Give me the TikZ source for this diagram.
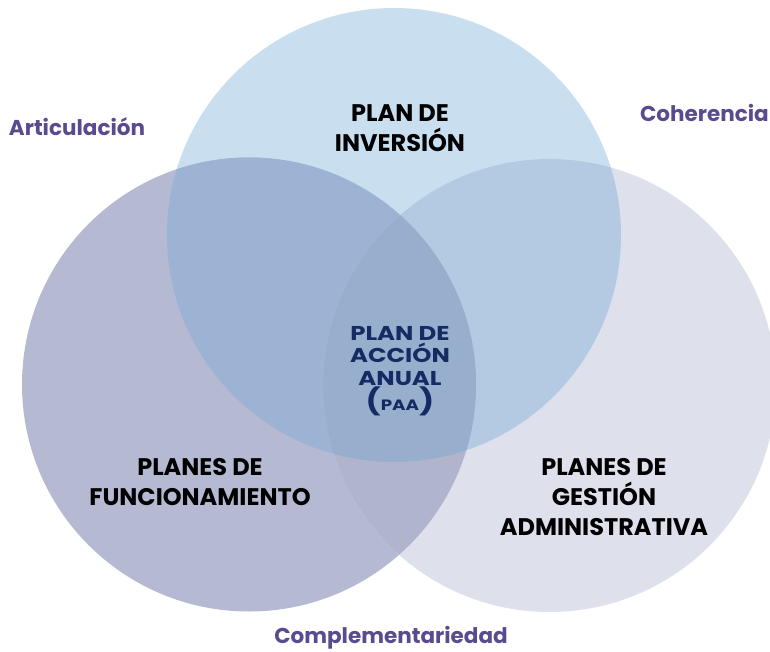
\documentclass[tikz,border=0pt]{standalone}
\usepackage{fontspec}
\setmainfont{Poppins}[BoldFont={* Bold}]
\newfontfamily\paafont{Poppins Bold}[FakeStretch=1.22]
\definecolor{cT}{RGB}{201,223,240}
\definecolor{cL}{RGB}{181,185,210}
\definecolor{cR}{RGB}{222,224,236}
\definecolor{cTL}{RGB}{156,179,211}
\definecolor{cTR}{RGB}{179,202,226}
\definecolor{cLR}{RGB}{176,180,205}
\definecolor{cTLR}{RGB}{151,175,205}
\definecolor{purp}{RGB}{90,75,143}
\definecolor{navy}{RGB}{22,42,100}
\tikzset{
  lbl/.style={font=\bfseries\fontsize{24}{30}\selectfont, align=center, text=black, inner sep=0pt},
  paa/.style={font=\paafont\fontsize{20}{22.5}\selectfont, align=center, text=navy, inner sep=0pt},
  side/.style={font=\bfseries\fontsize{21.5}{24}\selectfont, text=purp, inner sep=0pt}
}
\begin{document}
\begin{tikzpicture}[x=1pt,y=1pt]
\useasboundingbox (0,0) rectangle (770,651);
\clip (0,0) rectangle (770,651);
\coordinate (T) at (394,416);
\coordinate (L) at (249,266.5);
\coordinate (R) at (549.5,265.5);
\def\rT{227}\def\rL{227}\def\rR{226.5}
\fill[cT] (T) circle (\rT);
\fill[cL] (L) circle (\rL);
\fill[cR] (R) circle (\rR);
\begin{scope}\clip (T) circle (\rT); \fill[cTL] (L) circle (\rL); \end{scope}
\begin{scope}\clip (T) circle (\rT); \fill[cTR] (R) circle (\rR); \end{scope}
\begin{scope}\clip (L) circle (\rL); \fill[cLR] (R) circle (\rR); \end{scope}
\begin{scope}\clip (T) circle (\rT); \clip (L) circle (\rL); \fill[cTLR] (R) circle (\rR); \end{scope}
\node[lbl] (inv) at (400,523) {PLAN DE\\INVERSIÓN};
\node[lbl] (fun) at (200,169) {PLANES DE\\FUNCIONAMIENTO};
\node[lbl] (ges) at (604,154) {PLANES DE\\GESTIÓN\\ADMINISTRATIVA};
\node[paa] (pa) at (400,280) {PLAN DE\\ACCIÓN\\ANUAL\\{\fontsize{26}{22.5}\selectfont(}{\fontsize{15}{22.5}\selectfont PAA}{\fontsize{26}{22.5}\selectfont)}};
\node[side] (art) at (77,524) {Articulación};
\node[side,anchor=east] (coh) at (769,538) {Coherencia};
\node[side] (com) at (391,13) {Complementariedad};
\end{tikzpicture}
\end{document}
